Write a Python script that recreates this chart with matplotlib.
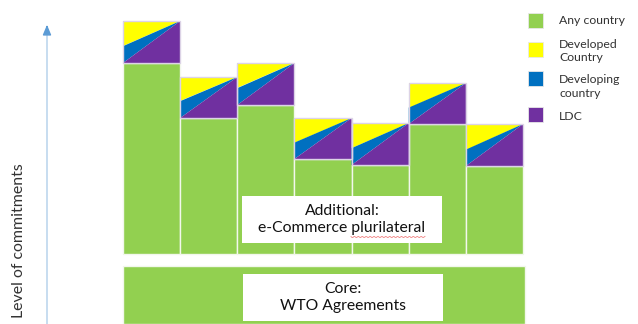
import matplotlib
matplotlib.use("Agg")
import matplotlib.pyplot as plt
from matplotlib.patches import Polygon, Rectangle
import numpy as np

plt.rcParams['font.family'] = ['Lato', 'DejaVu Sans']

# ---- data (levels of commitment, arbitrary units) ----
bars = ["Plurilateral 1", "Plurilateral 2", "Plurilateral 3", "Plurilateral 4",
        "Plurilateral 5", "Plurilateral 6", "Plurilateral 7"]
any_country = [191, 136, 149, 95, 89, 130, 88]
differentiated = [42, 41, 42, 41, 42, 41, 42]
developing_share = [0.40, 0.41, 0.40, 0.40, 0.40, 0.40, 0.39]
core_level = 58
legend_labels = ["Any country", "Developed\nCountry", "Developing\ncountry", "LDC"]
y_label = "Level of commitments"
additional_text = "Additional:\ne-Commerce plurilateral"
core_text = "Core:\nWTO Agreements"

GREEN = "#92D050"
YELLOW = "#FFFF00"
BLUE = "#0070C0"
PURPLE = "#7030A0"

W, H = 638, 324
fig = plt.figure(figsize=(W / 100, H / 100), dpi=100)
ax = fig.add_axes([0, 0, 1, 1])
ax.set_xlim(0, W)
ax.set_ylim(0, H)
ax.axis("off")

# bar layout
left, right = 123, 523
base = H - 254
n = len(bars)
bw = (right - left) / n
xs = left + bw * (np.arange(n) + 0.5)

ax.bar(xs, any_country, width=bw, bottom=base, color=GREEN,
       edgecolor="#F2F7EC", linewidth=1.0, zorder=2)

for x, g, d, s in zip(xs, any_country, differentiated, developing_share):
    x0, x1 = x - bw / 2, x + bw / 2
    y0 = base + g
    y1 = y0 + d
    ym = y0 + s * d
    ax.add_patch(Polygon([(x0, ym), (x0, y1), (x1, y1)], closed=True,
                         facecolor=YELLOW, edgecolor="none", zorder=3))
    ax.add_patch(Polygon([(x0, y0), (x0, ym), (x1, y1)], closed=True,
                         facecolor=BLUE, edgecolor="none", zorder=3))
    ax.add_patch(Polygon([(x0, y0), (x1, y1), (x1, y0)], closed=True,
                         facecolor=PURPLE, edgecolor="none", zorder=3))
    ax.add_patch(Rectangle((x0, y0), bw, d, facecolor="none",
                           edgecolor="#DCD3E6", linewidth=1.0, zorder=4))

# core bar
ax.bar([(left + right + 2) / 2], [core_level], width=right + 2 - left, bottom=0,
       color=GREEN, edgecolor="#F2F7EC", linewidth=1.0, zorder=2)

# text boxes
ax.add_patch(Rectangle((242, H - 243), 200, 47, facecolor="white",
                       edgecolor="none", zorder=5))
ax.text(342, H - 219.5, additional_text, ha="center", va="center",
        fontsize=11.3, linespacing=1.25, color="#111111", zorder=6)
# spell-check squiggle under "plurilateral"
sx = np.linspace(351, 425, 80)
ax.plot(sx, H - 237 + 0.6 * np.sin(sx * 1.6), color="#F08080", lw=0.6, zorder=6)

ax.add_patch(Rectangle((243, H - 321), 200, 47, facecolor="white",
                       edgecolor="none", zorder=5))
ax.text(343, H - 297.5, core_text, ha="center", va="center",
        fontsize=11.3, linespacing=1.25, color="#111111", zorder=6)

# arrow and y label
ax.plot([47, 47], [0, H - 28], color="#BDD7EE", lw=1.2, zorder=2)
ax.annotate("", xy=(47, H - 22), xytext=(47, H - 31),
            arrowprops=dict(arrowstyle="-|>,head_width=0.25,head_length=0.6",
                            color="#5B9BD5", lw=1.0))
ax.text(19, H - 241, y_label, rotation=90, ha="center", va="center",
        fontsize=11.4, color="#333333")

# legend
colors = [GREEN, YELLOW, BLUE, PURPLE]
sq_tops = [13, 42, 71, 107]
text_y = [21, 51, 86.5, 117]
for c, t, ty, lab in zip(colors, sq_tops, text_y, legend_labels):
    ax.add_patch(Rectangle((528, H - t - 15), 15, 15, facecolor=c,
                           edgecolor="#E8E8E8", linewidth=0.6, zorder=3))
    ax.text(559, H - ty, lab, ha="left", va="center", fontsize=8.8,
            linespacing=1.3, color="#333333")

fig.savefig("out.png", dpi=100)
